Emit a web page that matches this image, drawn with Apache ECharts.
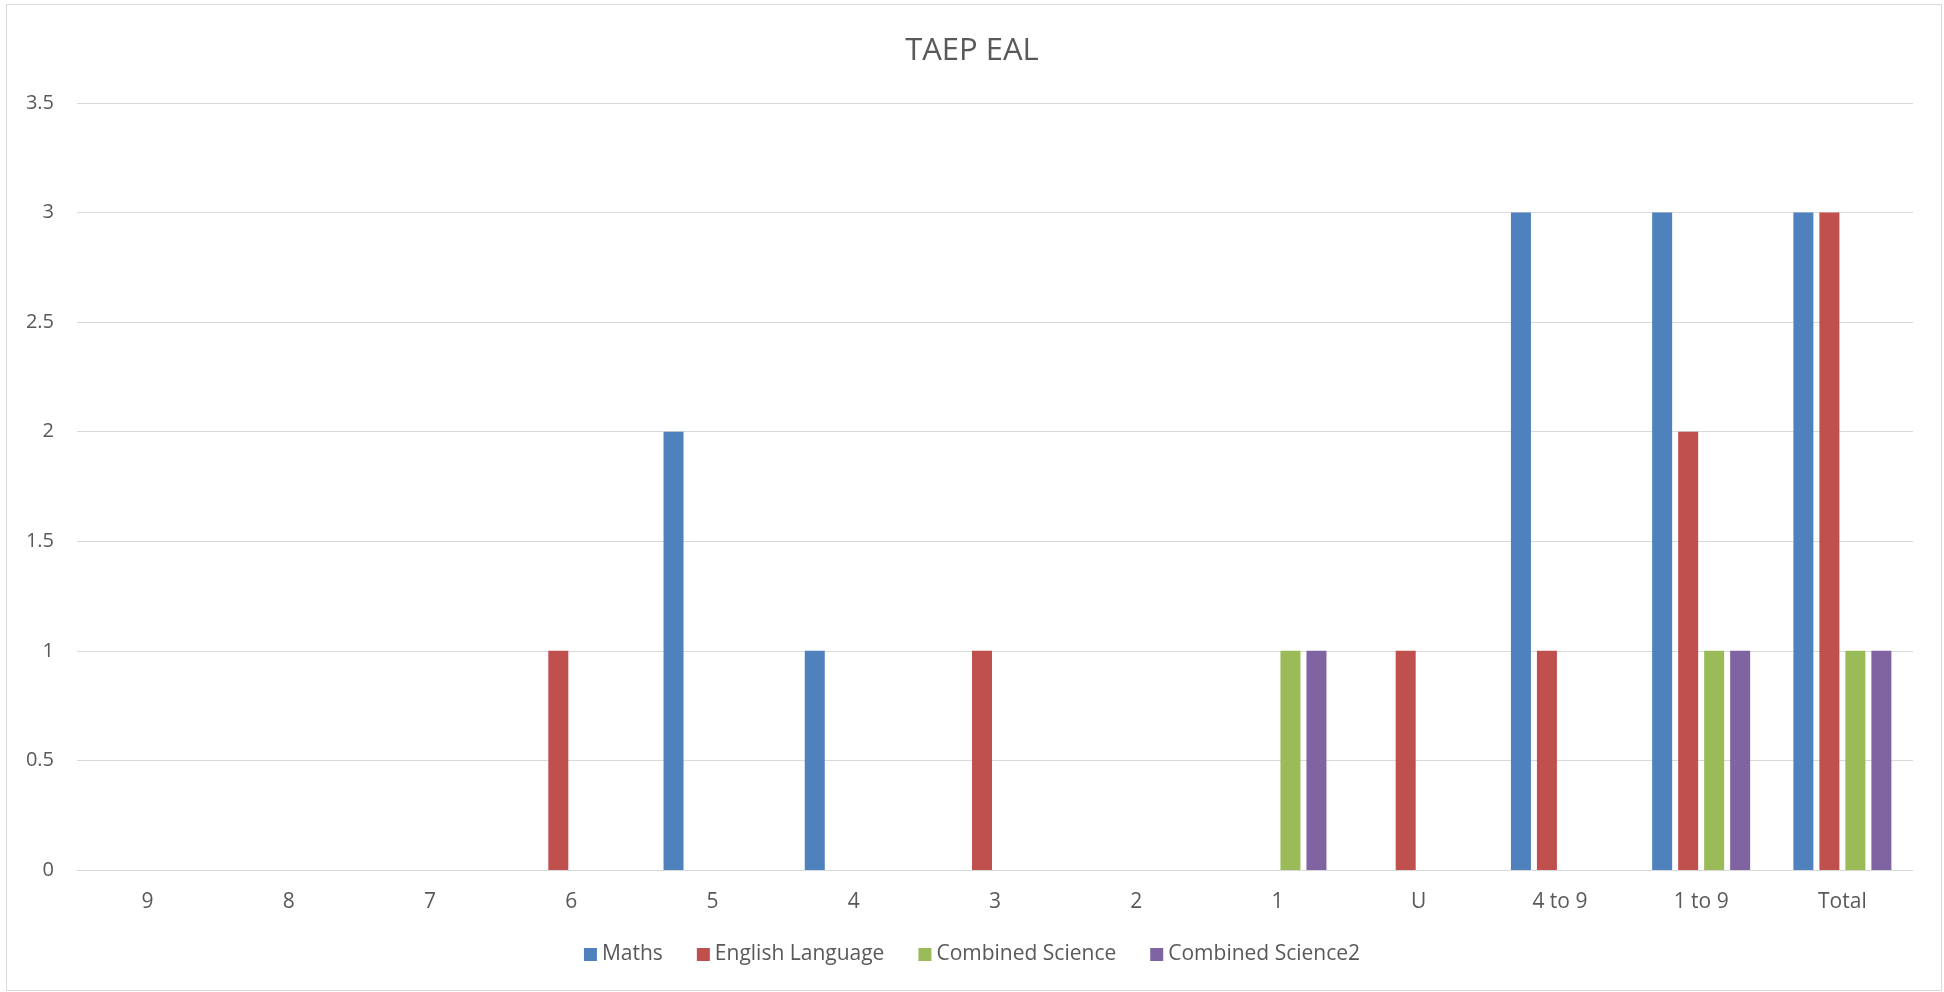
<!DOCTYPE html>
<html>
<head>
<meta charset="utf-8">
<title>TAEP EAL</title>
<script src="https://cdn.jsdelivr.net/npm/echarts@6/dist/echarts.min.js"></script>
<style>
  html, body { margin: 0; padding: 0; background: #fff; }
  #chart { width: 1944px; height: 992px; }
</style>
</head>
<body>
<div id="chart"></div>
<script>
  // grades along the x axis
  var categories = ['9', '8', '7', '6', '5', '4', '3', '2', '1', 'U', '4 to 9', '1 to 9', 'Total'];
  var seriesNames = ['Maths', 'English Language', 'Combined Science', 'Combined Science2'];
  // counts per grade
  var maths = [0, 0, 0, 0, 2, 1, 0, 0, 0, 0, 3, 3, 3];
  var english = [0, 0, 0, 1, 0, 0, 1, 0, 0, 1, 1, 2, 3];
  var combinedScience = [0, 0, 0, 0, 0, 0, 0, 0, 1, 0, 0, 1, 1];
  var combinedScience2 = [0, 0, 0, 0, 0, 0, 0, 0, 1, 0, 0, 1, 1];
  var yTicks = [0, 0.5, 1, 1.5, 2, 2.5, 3, 3.5];

  var colors = ['#4F81BD', '#C0504D', '#9BBB59', '#8064A2'];
  var allData = [maths, english, combinedScience, combinedScience2];

  var chart = echarts.init(document.getElementById('chart'));

  var series = seriesNames.map(function (name, i) {
    return {
      name: name,
      type: 'bar',
      data: allData[i],
      barWidth: 20,
      barGap: '30%',
      itemStyle: { color: colors[i] },
      emphasis: { disabled: true }
    };
  });

  chart.setOption({
    animation: false,
    color: colors,
    title: {
      text: 'TAEP EAL',
      left: 'center',
      top: 31,
      textStyle: {
        fontFamily: 'Open Sans',
        fontSize: 31,
        fontWeight: 'normal',
        color: '#595959'
      }
    },
    legend: {
      bottom: 22,
      left: 'center',
      icon: 'rect',
      itemWidth: 13,
      itemHeight: 13,
      itemGap: 34,
      textStyle: {
        fontFamily: 'Open Sans',
        fontSize: 21,
        color: '#595959'
      },
      data: seriesNames
    },
    grid: {
      left: 77,
      right: 31,
      top: 103,
      bottom: 122,
      containLabel: false
    },
    xAxis: {
      type: 'category',
      data: categories,
      axisTick: { show: false },
      axisLine: { lineStyle: { color: '#d9d9d9', width: 1 } },
      axisLabel: {
        margin: 22,
        fontFamily: 'Open Sans',
        fontSize: 21,
        color: '#595959'
      }
    },
    yAxis: {
      type: 'value',
      min: yTicks[0],
      max: yTicks[yTicks.length - 1],
      interval: 0.5,
      axisLine: { show: false },
      axisTick: { show: false },
      splitLine: { lineStyle: { color: '#d9d9d9', width: 1 } },
      axisLabel: {
        margin: 23,
        fontFamily: 'Open Sans',
        fontSize: 20,
        color: '#595959'
      }
    },
    graphic: [{
      type: 'rect',
      shape: { x: 6.5, y: 4.5, width: 1935, height: 986 },
      style: { fill: 'none', stroke: '#d9d9d9', lineWidth: 1 },
      silent: true
    }],
    series: series
  });
</script>
</body>
</html>
